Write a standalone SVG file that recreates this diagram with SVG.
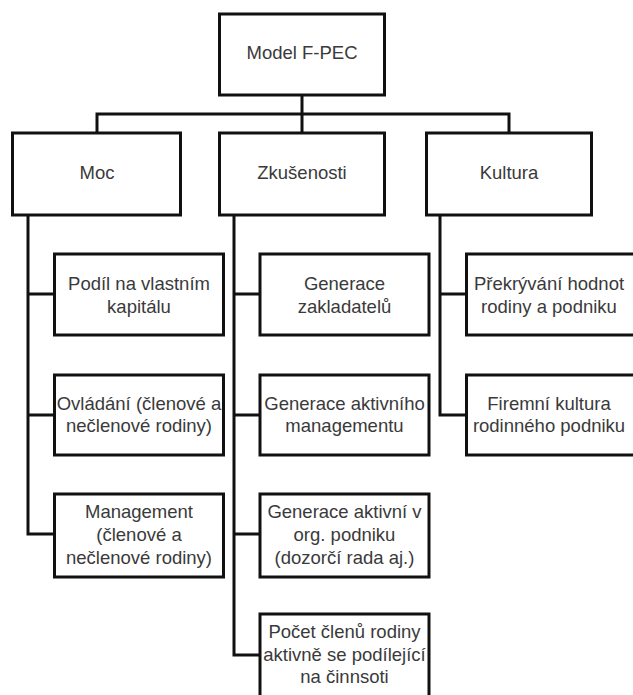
<svg xmlns="http://www.w3.org/2000/svg" width="633" height="695" viewBox="0 0 633 695">
<style>
.box{fill:#fff;stroke:#111;stroke-width:3}
.ln{fill:none;stroke:#111;stroke-width:3}
text{font-family:"Liberation Sans",Arial,sans-serif;font-size:18.5px;fill:#3a3a3a;text-anchor:middle}
</style>
<rect width="633" height="695" fill="#fff"/>
<g id="connectors">
<path class="ln" d="M302 95V133M97 133V114H509V133"/>
<path class="ln" d="M28 215V534H54.5M28 294H54.5M28 415H54.5"/>
<path class="ln" d="M234 215V655H260M234 294H260M234 415H260M234 534H260"/>
<path class="ln" d="M440 215V415H466.5M440 294H466.5"/>
</g>
<g id="model"><rect class="box" x="219.5" y="14" width="165" height="81"/><text x="302" y="59">Model F-PEC</text></g>
<g id="moc"><rect class="box" x="12.5" y="133" width="168" height="82"/><text x="97" y="179">Moc</text></g>
<g id="zkusenosti"><rect class="box" x="219.5" y="133" width="165" height="82"/><text x="302" y="179">Zkušenosti</text></g>
<g id="kultura"><rect class="box" x="426.5" y="133" width="165" height="82"/><text x="509" y="179">Kultura</text></g>
<g id="podil"><rect class="box" x="54.5" y="254" width="169" height="81"/><text x="139" y="290">Podíl na vlastním</text><text x="139" y="313">kapitálu</text></g>
<g id="ovladani"><rect class="box" x="54.5" y="375" width="169" height="80"/><text x="139" y="410">Ovládání (členové a</text><text x="139" y="432">nečlenové rodiny)</text></g>
<g id="management"><rect class="box" x="54.5" y="494" width="169" height="83"/><text x="139" y="518">Management</text><text x="139" y="541">(členové a</text><text x="139" y="564">nečlenové rodiny)</text></g>
<g id="gen-zakl"><rect class="box" x="260" y="254" width="169" height="81"/><text x="344.5" y="290">Generace</text><text x="344.5" y="313">zakladatelů</text></g>
<g id="gen-akt-man"><rect class="box" x="260" y="375" width="169" height="80"/><text x="344.5" y="410">Generace aktivního</text><text x="344.5" y="432">managementu</text></g>
<g id="gen-akt-org"><rect class="box" x="260" y="494" width="169" height="83"/><text x="344.5" y="518">Generace aktivní v</text><text x="344.5" y="541">org. podniku</text><text x="344.5" y="564">(dozorčí rada aj.)</text></g>
<g id="pocet"><rect class="box" x="260" y="614" width="169" height="83"/><text x="344.5" y="638">Počet členů rodiny</text><text x="344.5" y="661">aktivně se podílející</text><text x="344.5" y="683">na činnsoti</text></g>
<g id="prekryvani"><rect class="box" x="466.5" y="254" width="168" height="81"/><text x="549" y="290">Překrývání hodnot</text><text x="549" y="313">rodiny a podniku</text></g>
<g id="firemni"><rect class="box" x="466.5" y="375" width="168" height="80"/><text x="549" y="410">Firemní kultura</text><text x="549" y="432">rodinného podniku</text></g>
</svg>
